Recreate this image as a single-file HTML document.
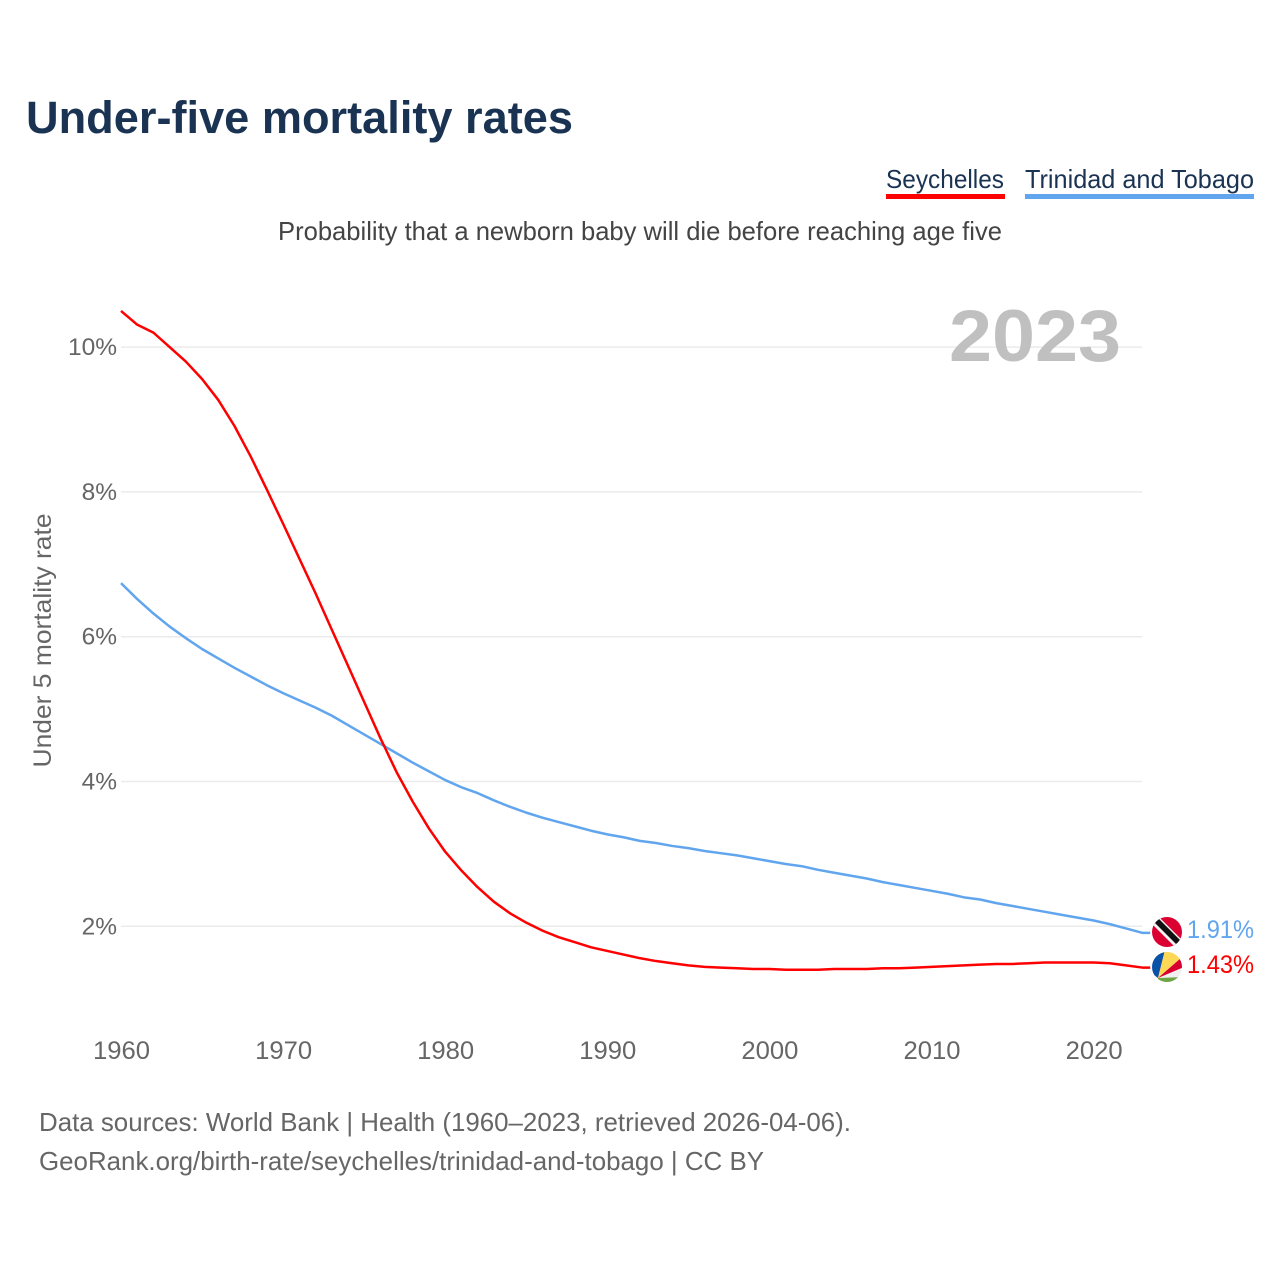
<!DOCTYPE html>
<html lang="en">
<head>
<meta charset="utf-8">
<title>Under-five mortality rates</title>
<style>
html,body{margin:0;padding:0;background:#fff;}
svg{display:block;font-family:"Liberation Sans",sans-serif;}
</style>
</head>
<body>
<svg id="chart" xmlns="http://www.w3.org/2000/svg" width="1280" height="1280" viewBox="0 0 1280 1280">
  <defs>
    <clipPath id="flag-clip-tt"><circle cx="1167" cy="932" r="15"/></clipPath>
    <clipPath id="flag-clip-sc"><circle cx="1167" cy="967" r="15"/></clipPath>
  </defs>
  <rect width="1280" height="1280" fill="#fff"/>
  <text x="26" y="133" font-size="45" font-weight="700" fill="#1a3353" textLength="547" lengthAdjust="spacingAndGlyphs">Under-five mortality rates</text>

  <g>
    <text x="886" y="188" font-size="26" fill="#1a3353" textLength="118" lengthAdjust="spacingAndGlyphs">Seychelles</text>
    <rect x="886" y="194" width="119" height="5" fill="#ff0000"/>
  </g>
  <g>
    <text x="1025" y="188" font-size="26" fill="#1a3353" textLength="229" lengthAdjust="spacingAndGlyphs">Trinidad and Tobago</text>
    <rect x="1025" y="194" width="229" height="5" fill="#60a5ee"/>
  </g>

  <text x="278" y="240" font-size="26" fill="#444" textLength="724" lengthAdjust="spacingAndGlyphs">Probability that a newborn baby will die before reaching age five</text>

  <g id="grid"></g>
  <g id="y-ticks"></g>
  <g id="x-ticks"></g>

  <text transform="translate(51,640.5) rotate(-90)" text-anchor="middle" font-size="25" fill="#666" textLength="254" lengthAdjust="spacingAndGlyphs">Under 5 mortality rate</text>

  <text x="949" y="361" font-size="73" font-weight="700" fill="#c0c0c0" textLength="172" lengthAdjust="spacingAndGlyphs">2023</text>

  <g id="series"></g>

  <g clip-path="url(#flag-clip-tt)">
    <rect x="1150" y="915" width="34" height="34" fill="#da0031"/>
    <polygon points="1149,921 1156,914 1185,943 1178,950" fill="#f4f4f4"/>
    <polygon points="1152,920 1156,916 1183,943 1179,947" fill="#111"/>
  </g>
  <g clip-path="url(#flag-clip-sc)">
    <rect x="1150" y="950" width="34" height="34" fill="#f0f0f0"/>
    <polygon points="1158,978 1150,972 1150,950 1165,950" fill="#0a52a8"/>
    <polygon points="1158,978 1165,950 1181,950 1181,958" fill="#fcd856"/>
    <polygon points="1158,978 1181,958 1184,958 1184,967" fill="#d9002f"/>
    <polygon points="1158,978 1184,977 1184,984 1158,984" fill="#6da544"/>
  </g>

  <text id="label-tt" x="1187" y="938" font-size="25" fill="#60a5ee" textLength="67" lengthAdjust="spacingAndGlyphs"></text>
  <text id="label-sc" x="1187" y="973" font-size="25" fill="#ff0000" textLength="67" lengthAdjust="spacingAndGlyphs"></text>

  <text x="39" y="1131" font-size="26" fill="#666" textLength="812" lengthAdjust="spacingAndGlyphs">Data sources: World Bank | Health (1960–2023, retrieved 2026-04-06).</text>
  <text x="39" y="1170" font-size="26" fill="#666" textLength="725" lengthAdjust="spacingAndGlyphs">GeoRank.org/birth-rate/seychelles/trinidad-and-tobago | CC BY</text>
</svg>
<script>
const startYear = 1960;
const seychellesValues = [
  10.50,10.31,10.20,10.00,9.80,9.56,9.27,8.91,8.49,8.03,
  7.56,7.08,6.60,6.10,5.60,5.10,4.60,4.13,3.72,3.35,
  3.03,2.77,2.54,2.34,2.18,2.05,1.94,1.85,1.78,1.71,
  1.66,1.61,1.56,1.52,1.49,1.46,1.44,1.43,1.42,1.41,
  1.41,1.40,1.40,1.40,1.41,1.41,1.41,1.42,1.42,1.43,
  1.44,1.45,1.46,1.47,1.48,1.48,1.49,1.50,1.50,1.50,
  1.50,1.49,1.46,1.43
];
const trinidadValues = [
  6.74,6.52,6.32,6.14,5.98,5.83,5.70,5.57,5.45,5.33,
  5.22,5.12,5.02,4.91,4.78,4.65,4.52,4.39,4.26,4.14,
  4.02,3.92,3.84,3.74,3.65,3.57,3.50,3.44,3.38,3.32,
  3.27,3.23,3.18,3.15,3.11,3.08,3.04,3.01,2.98,2.94,
  2.90,2.86,2.83,2.78,2.74,2.70,2.66,2.61,2.57,2.53,
  2.49,2.45,2.40,2.37,2.32,2.28,2.24,2.20,2.16,2.12,
  2.08,2.03,1.97,1.91
];
const yTickValues = [2,4,6,8,10];
const xTickValues = [1960,1970,1980,1990,2000,2010,2020];

const NS = 'http://www.w3.org/2000/svg';
function xScale(year){ return 121 + (year - 1960) * 16.21; }
function yScale(v){ return 926.3 - (v - 2) * 72.4; }

function make(tag, attrs, parent){
  const el = document.createElementNS(NS, tag);
  for (const k in attrs) el.setAttribute(k, attrs[k]);
  parent.appendChild(el);
  return el;
}

const grid = document.getElementById('grid');
const yTicks = document.getElementById('y-ticks');
const xTicks = document.getElementById('x-ticks');
const series = document.getElementById('series');

yTickValues.forEach(function(v){
  const line = make('line', {x1:121, x2:xScale(2023), y1:yScale(v), y2:yScale(v), stroke:'#ebebeb', 'stroke-width':1.5}, grid);
  
  
  const label = make('text', {x:117, y:yScale(v)+8, 'text-anchor':'end', 'font-size':24.5, fill:'#666'}, yTicks);
  
  
  label.textContent = v + '%';
});

xTickValues.forEach(function(y){
  const label = make('text', {x:xScale(y)+0.5, y:1059, 'text-anchor':'middle', 'font-size':25, fill:'#666', textLength:57, lengthAdjust:'spacingAndGlyphs'}, xTicks);
  
  
  label.textContent = y;
});

function drawLine(values, color, name){
  const pts = values.map(function(v, i){ return xScale(startYear + i).toFixed(2) + ',' + yScale(v).toFixed(2); });
  const last = values[values.length - 1];
  pts.push((xScale(startYear + values.length - 1) + 8).toFixed(2) + ',' + yScale(last).toFixed(2));
  const line = make('polyline', {points:pts.join(' '), fill:'none', stroke:color, 'stroke-width':2.5, 'stroke-linejoin':'round'}, series);
  
  
}
drawLine(trinidadValues, '#60a5ee', 'line-trinidad-and-tobago');
drawLine(seychellesValues, '#ff0000', 'line-seychelles');

document.getElementById('label-tt').textContent = trinidadValues[trinidadValues.length - 1].toFixed(2) + '%';
document.getElementById('label-sc').textContent = seychellesValues[seychellesValues.length - 1].toFixed(2) + '%';
</script>
</body>
</html>
